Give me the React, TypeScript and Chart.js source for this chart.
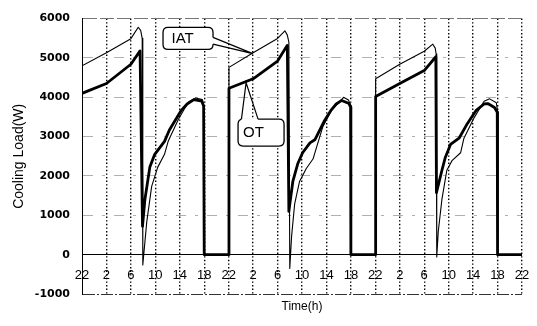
import React, { useEffect, useRef } from 'react';
import { Chart, registerables } from 'chart.js';

Chart.register(...registerables);

// Hours elapsed since 22:00 on the first day (0 .. 72)
const iatHours = [
  0, 4, 8, 9.2, 9.6, 9.85, 9.95, 10.6, 11.4, 12.4, 13.5, 14.1, 15.8, 16.7, 17.5, 18.6, 19.7, 19.95, 20, 24,
  24.05, 28, 32, 33.2, 33.6, 33.85, 34.0, 34.3, 34.8, 35.6, 36.7, 37.8, 38.6, 39.4, 40.8, 42.8, 43.6, 43.95, 44, 48,
  48.05, 52, 56, 57.4, 57.8, 57.95, 58.05, 58.3, 58.9, 59.7, 60.55, 61.95, 62.5, 64.2, 65.8, 66.7, 67.8, 67.95, 68, 72,
];
const iatLoad = [
  4800, 5130, 5490, 5780, 5700, 5500, -260, 840, 1735, 2225, 2550, 2880, 3450, 3690, 3890, 3980, 3940, 3800, 0, 0,
  4760, 5130, 5495, 5690, 5580, 5400, -350, 470, 1290, 1860, 2190, 2430, 2840, 3250, 3660, 4000, 3930, 3800, 0, 0,
  4470, 4840, 5170, 5350, 5250, 5100, -60, 590, 1410, 2145, 2390, 2590, 2960, 3490, 3900, 3960, 3860, 3700, 0, 0,
];

const otHours = [
  0, 4, 8, 9.5, 9.9, 10.3, 11.1, 11.9, 13.5, 14.3, 16.2, 17.2, 18.3, 19.6, 19.9, 20, 24,
  24.05, 28, 32, 33.6, 33.85, 34.5, 35.3, 36.1, 37.3, 38.1, 39.7, 40.7, 41.6, 42.5, 43.7, 43.95, 44, 48,
  48.05, 52, 56, 57.9, 58.0, 58.9, 59.45, 60.3, 61.7, 63.05, 64.45, 65.8, 66.4, 67.5, 67.95, 68, 72,
];
const otLoad = [
  4100, 4350, 4840, 5180, 720, 1410, 2225, 2550, 2880, 3170, 3660, 3830, 3940, 3900, 3780, 0, 0,
  4230, 4470, 4920, 5320, 1100, 1860, 2310, 2590, 2840, 2920, 3410, 3660, 3830, 3920, 3840, 3750, 0, 0,
  4020, 4350, 4680, 5030, 1575, 2145, 2470, 2800, 2960, 3330, 3660, 3830, 3840, 3740, 3620, 0, 0,
];

const timeTickLabels = [
  '22', '2', '6', '10', '14', '18', '22', '2', '6', '10', '14', '18', '22', '2', '6', '10', '14', '18', '22',
];
// load value at which the time labels sit (they are printed inside the plot, below zero)
const timeLabelLevel = -520;

const seriesNames = ['IAT', 'OT'];

// Callout labels: tip anchored on a series point, box centre in data space
const callouts = [
  { text: 'IAT', tipX: 27.95, tipY: 5110, boxX: 17.35, boxY: 5497, w: 50, h: 22, textInset: 8.5, side: 'right', b1: -1, b2: 5.8 },
  { text: 'OT', tipX: 26.85, tipY: 4370, boxX: 29.3, boxY: 3103, w: 46, h: 27, textInset: 5, side: 'top', b1: -19.6, b2: -3 },
];

const timeLabelPlugin = {
  id: 'timeLabels',
  afterDatasetsDraw(chart: any) {
    const { ctx, scales } = chart;
    const xs = scales.x;
    const ys = scales.y;
    const y = ys.getPixelForValue(timeLabelLevel);
    ctx.save();
    ctx.fillStyle = '#000';
    ctx.font = '13px "Liberation Sans", Arial, sans-serif';
    ctx.textAlign = 'center';
    ctx.textBaseline = 'middle';
    xs.ticks.forEach((t: any, i: number) => {
      const label = timeTickLabels[i];
      if (label !== undefined) ctx.fillText(label, xs.getPixelForValue(t.value), y);
    });
    ctx.restore();
  },
};

const calloutPlugin = {
  id: 'callouts',
  afterDatasetsDraw(chart: any) {
    const { ctx, scales } = chart;
    const xs = scales.x;
    const ys = scales.y;
    ctx.save();
    for (const c of callouts) {
      const cx = xs.getPixelForValue(c.boxX);
      const cy = ys.getPixelForValue(c.boxY);
      const tx = xs.getPixelForValue(c.tipX);
      const ty = ys.getPixelForValue(c.tipY);
      const l = cx - c.w / 2;
      const t = cy - c.h / 2;
      const r = 5;
      ctx.beginPath();
      ctx.moveTo(l + r, t);
      ctx.lineTo(l + c.w - r, t);
      ctx.quadraticCurveTo(l + c.w, t, l + c.w, t + r);
      ctx.lineTo(l + c.w, t + c.h - r);
      ctx.quadraticCurveTo(l + c.w, t + c.h, l + c.w - r, t + c.h);
      ctx.lineTo(l + r, t + c.h);
      ctx.quadraticCurveTo(l, t + c.h, l, t + c.h - r);
      ctx.lineTo(l, t + r);
      ctx.quadraticCurveTo(l, t, l + r, t);
      ctx.closePath();
      ctx.fillStyle = '#fff';
      ctx.fill();
      ctx.lineWidth = 1.3;
      ctx.strokeStyle = '#000';
      ctx.stroke();

      let p1: number[], p2: number[];
      if (c.side === 'right') {
        p1 = [l + c.w, cy + c.b1];
        p2 = [l + c.w, cy + c.b2];
      } else {
        p1 = [cx + c.b1, t];
        p2 = [cx + c.b2, t];
      }
      ctx.beginPath();
      ctx.moveTo(p1[0], p1[1]);
      ctx.lineTo(p2[0], p2[1]);
      ctx.lineWidth = 2;
      ctx.strokeStyle = '#fff';
      ctx.stroke();
      ctx.beginPath();
      ctx.moveTo(p1[0], p1[1]);
      ctx.lineTo(tx, ty);
      ctx.lineTo(p2[0], p2[1]);
      ctx.lineWidth = 1.2;
      ctx.strokeStyle = '#000';
      ctx.stroke();

      ctx.fillStyle = '#000';
      ctx.font = '15px "Liberation Sans", Arial, sans-serif';
      ctx.textAlign = 'left';
      ctx.textBaseline = 'middle';
      ctx.fillText(c.text, l + c.textInset, cy + 0.5);
    }
    ctx.restore();
  },
};

export default function App() {
  const canvasRef = useRef<HTMLCanvasElement | null>(null);

  useEffect(() => {
    const canvas = canvasRef.current;
    if (!canvas) return;
    const chart = new Chart(canvas, {
      type: 'line',
      data: {
        datasets: [
          {
            label: seriesNames[0],
            data: iatHours.map((h, i) => ({ x: h, y: iatLoad[i] })),
            borderColor: '#000',
            borderWidth: 1.1,
            pointRadius: 0,
            tension: 0,
            fill: false,
            borderJoinStyle: 'round',
          },
          {
            label: seriesNames[1],
            data: otHours.map((h, i) => ({ x: h, y: otLoad[i] })),
            borderColor: '#000',
            borderWidth: 2.8,
            pointRadius: 0,
            tension: 0,
            fill: false,
            borderJoinStyle: 'round',
          },
        ],
      },
      options: {
        animation: false,
        responsive: false,
        devicePixelRatio: 1,
        layout: { padding: { top: 7, right: 15, bottom: 0, left: 0 } },
        plugins: {
          legend: { display: false },
          tooltip: { enabled: false },
        },
        scales: {
          x: {
            type: 'linear',
            min: 0,
            max: 72,
            afterFit: (scale: any) => {
              scale.height = 32;
            },
            ticks: {
              display: false,
              stepSize: 4,
              autoSkip: false,
              maxRotation: 0,
            },
            grid: {
              drawTicks: false,
              color: (ctx: any) => (ctx.index === 0 ? 'rgba(0,0,0,0)' : '#000'),
              lineWidth: 1.4,
            },
            border: { display: false, dash: [1.4, 2.2] },
            title: {
              display: true,
              text: 'Time(h)',
              color: '#000',
              font: { family: '"Liberation Sans", Arial, sans-serif', size: 12 },
              padding: { top: 0, bottom: 11.8 },
            },
          },
          y: {
            type: 'linear',
            min: -1000,
            max: 6000,
            afterFit: (scale: any) => {
              scale.width = 82;
            },
            ticks: {
              stepSize: 1000,
              padding: 12,
              color: '#000',
              font: { family: '"DejaVu Sans", sans-serif', size: 11, weight: 'bold' },
              callback: (v: any) => String(v),
            },
            grid: {
              drawTicks: false,
              color: (ctx: any) => {
                const v = ctx.tick ? ctx.tick.value : null;
                if (v === 0) return '#000';
                if (v === -1000) return '#333';
                if (v === 6000) return '#777';
                return '#b0b0b0';
              },
              lineWidth: 1,
            },
            border: {
              display: true,
              color: '#000',
              width: 1,
              dash: (ctx: any) => {
                const v = ctx && ctx.tick ? ctx.tick.value : null;
                if (v === 0) return [];
                if (v === -1000) return [12, 2, 2, 2];
                if (v === 6000) return [14, 3];
                return [10, 9, 3, 9];
              },
            },
            title: {
              display: true,
              text: 'Cooling Load(W)',
              color: '#000',
              font: { family: '"Liberation Sans", Arial, sans-serif', size: 14 },
              padding: { top: 10.6, bottom: 0 },
            },
          },
        },
      },
      plugins: [timeLabelPlugin, calloutPlugin],
    } as any);
    return () => chart.destroy();
  }, []);

  return (
    <div style={{ position: 'fixed', left: 0, top: 0, width: 537, height: 326, background: '#fff' }}>
      <canvas ref={canvasRef} width={537} height={326} style={{ width: 537, height: 326, display: 'block' }} />
    </div>
  );
}
